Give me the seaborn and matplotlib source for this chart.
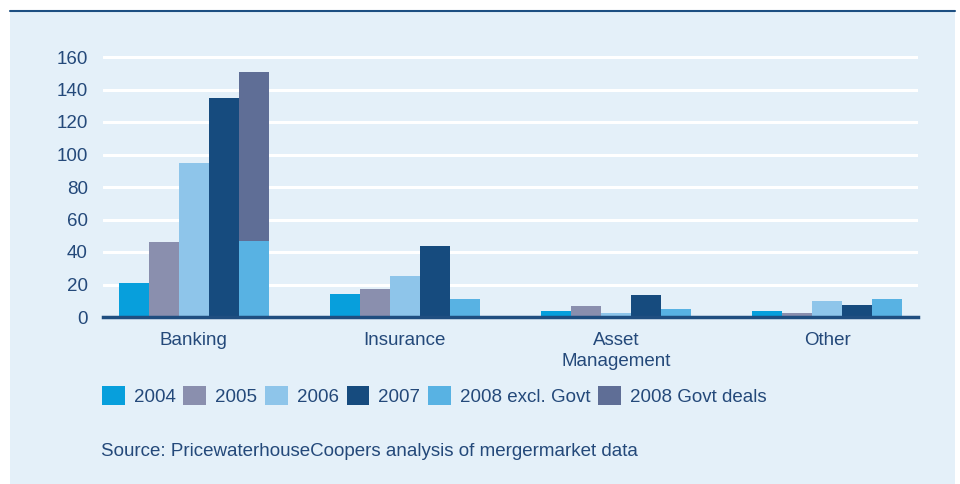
import pandas as pd
import numpy as np
import matplotlib
matplotlib.use('Agg')
import matplotlib.pyplot as plt
import seaborn as sns
from matplotlib.patches import Patch, Rectangle
from matplotlib.lines import Line2D

# Data
sectors = ['Banking', 'Insurance', 'Asset\nManagement', 'Other']
v2004 = [21, 14, 4, 4]
v2005 = [46, 17, 7, 2.5]
v2006 = [95, 25, 2.5, 10]
v2007 = [135, 44, 13.5, 7.5]
v2008_excl = [47, 11, 5, 11]
v2008_govt = [104, 0, 0, 0]

series = ['2004', '2005', '2006', '2007', '2008 excl. Govt', '2008 Govt deals']
colors = ['#079fdc', '#8a8fae', '#8ec5ea', '#164b7e', '#58b2e3', '#5f6e96']
text_col = '#24497a'
bg = '#e4f0f9'

# bar slots: the 2008 slot holds the stacked total
slots = ['2004', '2005', '2006', '2007', '2008']
v2008_total = [a + b for a, b in zip(v2008_excl, v2008_govt)]
rows = []
for name, vals in zip(slots, [v2004, v2005, v2006, v2007, v2008_total]):
    for s, v in zip(sectors, vals):
        rows.append({'sector': s, 'year': name, 'value': v})
df = pd.DataFrame(rows)
df_excl = pd.DataFrame({'sector': sectors, 'year': '2008', 'value': v2008_excl})

sns.set_style('white')
plt.rcParams['font.family'] = ['Liberation Sans', 'DejaVu Sans']
fs = 13.5

fig = plt.figure(figsize=(9.6, 4.84), dpi=100, facecolor='white')
W, H = 960, 484
fig.patches.append(Rectangle((10 / W, 0), 945 / W, (H - 11) / H,
                             transform=fig.transFigure, facecolor=bg,
                             edgecolor='none', zorder=-10))
fig.lines.append(Line2D([10 / W, 955 / W], [(H - 11) / H, (H - 11) / H],
                        transform=fig.transFigure, color='#1d4f82', lw=1.5))

top_px = 57 - 5 * 1.625
ax = fig.add_axes([103 / W, (H - 317) / H, 815 / W, (317 - top_px) / H])
ax.set_facecolor('none')

pal1 = dict(zip(slots, [colors[0], colors[1], colors[2], colors[3], colors[5]]))
sns.barplot(data=df, x='sector', y='value', hue='year', hue_order=slots,
            palette=pal1, width=0.71, dodge=True, saturation=1,
            legend=False, ax=ax, zorder=2)
sns.barplot(data=df_excl, x='sector', y='value', hue='year', hue_order=slots,
            palette={k: colors[4] for k in slots}, width=0.71, dodge=True,
            saturation=1, legend=False, ax=ax, zorder=3)
for p in ax.patches:
    p.set_edgecolor('none')
    p.set_linewidth(0)

ax.set_xlim(-0.43, 3.43)
ax.set_ylim(0, 165)
ax.set_yticks(np.arange(0, 161, 20))
ax.yaxis.grid(True, color='white', lw=2.2, zorder=1)
ax.set_axisbelow(True)
for s in ['top', 'right', 'left']:
    ax.spines[s].set_visible(False)
ax.spines['bottom'].set_color('#1f4e80')
ax.spines['bottom'].set_linewidth(2.5)
ax.spines['bottom'].set_zorder(5)
ax.tick_params(axis='both', length=0, labelsize=fs, colors=text_col)
ax.tick_params(axis='y', pad=11)
ax.tick_params(axis='x', pad=11)
for t in ax.get_xticklabels():
    t.set_linespacing(1.3)
ax.set_xlabel('')
ax.set_ylabel('')

handles = [Patch(facecolor=c, edgecolor='none') for c in colors]
fig.legend(handles, series, loc='center left', bbox_to_anchor=(102 / W, (H - 396) / H),
           ncol=6, frameon=False, fontsize=fs, handlelength=1.2, handleheight=1.2,
           handletextpad=0.5, columnspacing=0.41, labelcolor=text_col,
           borderaxespad=0, borderpad=0)

fig.text(101 / W, (H - 451) / H, 'Source: PricewaterhouseCoopers analysis of mergermarket data',
         fontsize=fs, color=text_col, va='center', ha='left')

fig.savefig('out.png', dpi=100, facecolor='white')
